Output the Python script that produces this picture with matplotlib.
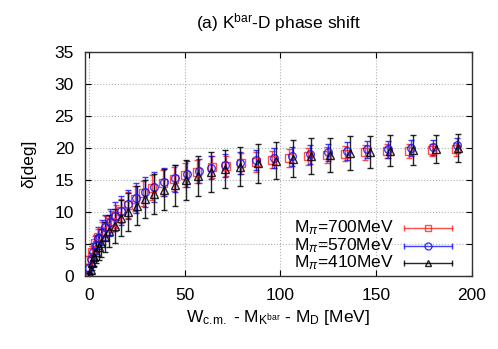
import numpy as np
import matplotlib.pyplot as plt

plt.rcParams['font.family'] = ['Liberation Sans', 'DejaVu Sans']
plt.rcParams['mathtext.fontset'] = 'custom'
plt.rcParams['mathtext.rm'] = 'Liberation Sans'
plt.rcParams['mathtext.it'] = 'Liberation Sans:italic'
plt.rcParams['mathtext.sf'] = 'Liberation Sans'

# M_pi = 700 MeV (red squares)
w_700 = [-1.4, -0.5, 1.4, 3.3, 5.0, 7.1, 9.2, 11.5, 14.1, 16.7, 20.2, 24.1, 28.3, 33.0,
         38.6, 44.3, 50.4, 56.4, 64.4, 71.4, 79.2, 87.0, 95.7, 104.3, 114.6, 124.5,
         133.9, 144.3, 155.7, 167.2, 179.2, 191.7]
d_700 = [0.1, 2.5, 3.8, 5.1, 6.1, 7.0, 7.7, 8.5, 9.3, 10.2, 11.1, 12.1, 12.9, 13.8,
         14.5, 15.2, 15.8, 16.3, 17.0, 17.2, 17.6, 17.8, 18.2, 18.5, 18.7, 18.9,
         19.1, 19.3, 19.5, 19.6, 19.7, 19.8]
e_700 = [0.3, 0.6, 0.9, 1.1, 1.3, 1.5, 1.6, 1.7, 1.8, 1.9, 2.0, 2.0, 2.0, 2.0,
         2.0, 1.9, 1.9, 1.8, 1.7, 1.6, 1.6, 1.5, 1.4, 1.4, 1.3, 1.3,
         1.2, 1.2, 1.1, 1.1, 1.0, 1.0]

# M_pi = 570 MeV (blue circles)
w_570 = [-0.3, 0.2, 1.0, 2.2, 3.6, 5.0, 6.7, 8.6, 10.8, 13.5, 16.8, 20.5, 24.8, 29.3,
         34.0, 39.3, 45.0, 51.0, 57.3, 64.0, 71.2, 79.0, 87.4, 96.8, 106.1, 115.5,
         124.9, 134.8, 145.2, 156.1, 168.1, 179.5, 192.0]
d_570 = [0.1, 1.2, 2.6, 3.8, 4.9, 5.9, 6.8, 7.6, 8.4, 9.3, 10.2, 11.2, 12.2, 13.1,
         13.9, 14.7, 15.3, 15.9, 16.4, 16.9, 17.3, 17.7, 18.1, 18.4, 18.7, 19.0,
         19.3, 19.6, 19.8, 19.8, 20.0, 20.1, 20.4]
e_570 = [0.3, 0.6, 1.0, 1.3, 1.5, 1.7, 1.9, 2.0, 2.1, 2.2, 2.3, 2.3, 2.3, 2.3,
         2.3, 2.2, 2.1, 2.0, 1.9, 1.8, 1.8, 1.7, 1.6, 1.6, 1.5, 1.5,
         1.4, 1.4, 1.3, 1.3, 1.2, 1.2, 1.2]

# M_pi = 410 MeV (black triangles)
w_410 = [0.7, 1.0, 1.7, 2.6, 3.8, 5.1, 6.4, 8.2, 10.4, 13.4, 16.8, 20.7, 24.9, 29.3,
         34.0, 39.2, 44.9, 50.9, 57.2, 64.0, 71.3, 79.0, 88.4, 97.6, 106.8, 116.0,
         126.0, 136.5, 147.0, 157.0, 169.0, 181.0, 192.7]
d_410 = [0.1, 0.9, 2.0, 3.0, 3.8, 4.5, 5.2, 6.1, 7.0, 7.8, 9.0, 10.0, 11.0, 12.0,
         12.8, 13.5, 14.2, 15.0, 15.6, 16.2, 16.7, 17.1, 17.6, 18.0, 18.3, 18.7,
         18.9, 19.2, 19.4, 19.6, 19.7, 19.85, 20.0]
e_410 = [0.3, 0.6, 1.0, 1.4, 1.7, 2.0, 2.2, 2.4, 2.5, 2.7, 2.8, 2.9, 3.0, 3.0,
         3.1, 3.2, 3.2, 3.2, 3.1, 3.1, 3.0, 3.0, 3.0, 2.9, 2.9, 2.8,
         2.7, 2.6, 2.5, 2.4, 2.3, 2.2, 2.2]

series = [
    (w_700, d_700, e_700, '#ff2020', 's', 0.8, 'M$_{\\pi}$=700MeV'),
    (w_570, d_570, e_570, '#1010ff', 'o', 0.8, 'M$_{\\pi}$=570MeV'),
    (w_410, d_410, e_410, '#000000', '^', 0.85, 'M$_{\\pi}$=410MeV'),
]

fs = 12.5

fig = plt.figure(figsize=(4.98, 3.49), dpi=100)
ax = fig.add_axes([0.1707, 0.2092, 0.7771, 0.6418])

for w, d, e, col, mk, al, lab in series:
    ax.errorbar(w, d, yerr=e, fmt=mk, color=col, mfc='none', mec=col, ms=5.5,
                mew=1.0, elinewidth=1.0, capsize=2, capthick=1.0, alpha=al)

# gnuplot style key, text first then sample
rows = [0.214, 0.134, 0.058]
for (w, d, e, col, mk, al, lab), yy in zip(series, rows):
    ax.text(0.798, yy, lab, transform=ax.transAxes, ha='right', va='center',
            fontsize=fs)
    ax.plot([0.824, 0.948], [yy, yy], transform=ax.transAxes, color=col, lw=1.0,
            alpha=al)
    ax.plot([0.824, 0.948], [yy, yy], transform=ax.transAxes, ls='none',
            marker='|', ms=5, mew=1.0, color=col, alpha=al)
    ax.plot([0.886], [yy], transform=ax.transAxes, ls='none', marker=mk, ms=5,
            mfc='none', mec=col, mew=1.0, alpha=al)

ax.set_xlim(-2, 200)
ax.set_ylim(0, 35)
ax.set_xticks([0, 50, 100, 150, 200])
ax.set_yticks([0, 5, 10, 15, 20, 25, 30, 35])
ax.grid(True, color='#b0b0b0', ls=':', lw=0.8)
ax.tick_params(direction='in', top=True, right=True, labelsize=fs, length=4,
               width=0.8)
ax.tick_params(axis='x', pad=9)
ax.tick_params(axis='y', pad=8)
for sp in ax.spines.values():
    sp.set_linewidth(1.0)
    sp.set_color('#333333')

ax.set_title('(a) K$^{\\mathrm{bar}}$-D phase shift', fontsize=fs, pad=17)
ax.set_xlabel('W$_{\\mathrm{c.\\!m.}}$ - M$_{\\mathrm{K^{bar}}}$ - M$_{\\mathrm{D}}$ [MeV]',
              fontsize=fs, labelpad=3)
ax.set_ylabel('δ[deg]', fontsize=fs, labelpad=13)

fig.savefig('out.png', dpi=100)
